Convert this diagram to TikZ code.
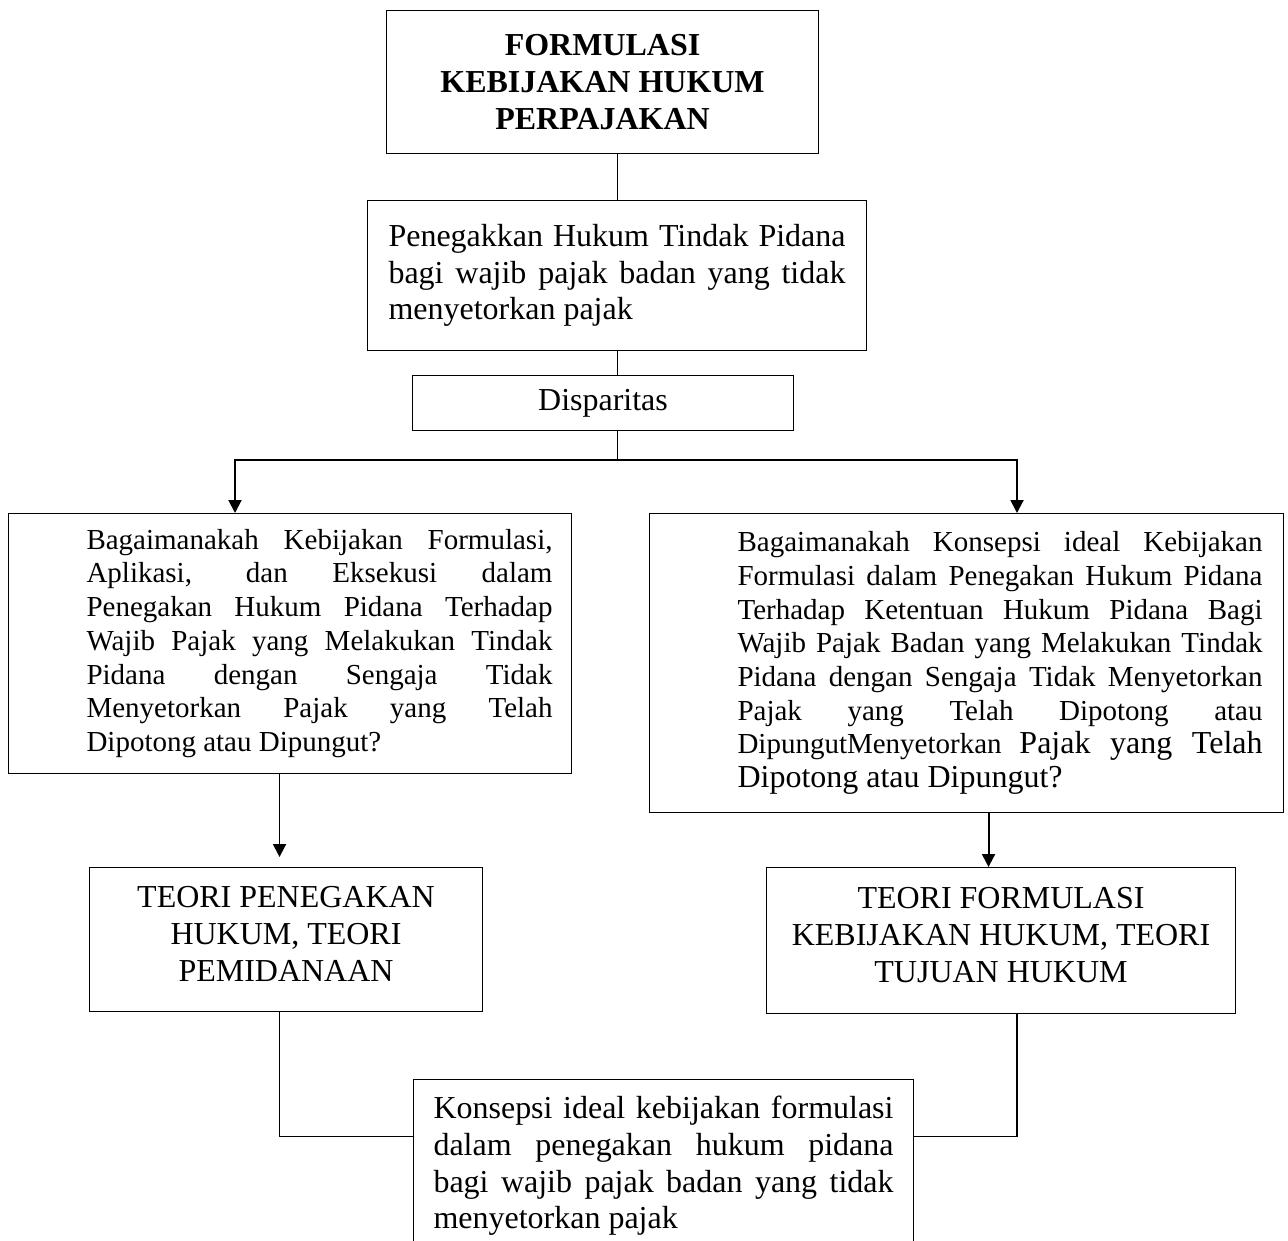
\documentclass[tikz,border=0pt]{standalone}
\usepackage{fontspec}
\setmainfont{Liberation Serif}
\usetikzlibrary{arrows.meta}
\newcommand{\besar}{\fontsize{18.2pt}{20.9pt}\selectfont}
\newcommand{\kecil}{\fontsize{16.5pt}{19.2pt}\selectfont}

\begin{document}
\begin{tikzpicture}[>={Triangle[length=0.26cm,width=0.26cm]},
  kotak/.style={draw,line width=0.6pt,anchor=north west,inner sep=0pt,align=center,font=\besar},
  rata/.style={kotak,align=justify},
  tanya/.style={kotak,font=\kecil},
  garis/.style={line width=0.6pt},
  panah/.style={line width=1.1pt,->}]
  \useasboundingbox (0,0) rectangle (25.76,-24.8);
  \node[kotak,minimum width=8.64cm,minimum height=2.86cm,font=\besar\bfseries] (judul) at (7.72,-0.2)
    {FORMULASI\\KEBIJAKAN HUKUM\\PERPAJAKAN};
  \node[rata,text width=9.14cm,inner xsep=0.42cm,minimum height=3cm] (tegak) at (7.34,-4)
    {Penegakkan Hukum Tindak Pidana\linebreak bagi wajib pajak badan yang tidak\linebreak menyetorkan pajak};
  \node[kotak,minimum width=7.62cm,minimum height=1.1cm] (dispar) at (8.24,-7.5) {Disparitas};
  \node[tanya,inner xsep=0.38cm,minimum height=5.2cm] (rumus1) at (0.16,-10.26)
    {\hspace*{1.18cm}\parbox{9.32cm}{Bagaimanakah Kebijakan Formulasi,\linebreak Aplikasi, dan Eksekusi dalam\linebreak
     Penegakan Hukum Pidana Terhadap\linebreak Wajib Pajak yang Melakukan Tindak\linebreak
     Pidana dengan Sengaja Tidak\linebreak Menyetorkan Pajak yang Telah\linebreak Dipotong atau Dipungut?}};
  \node[tanya,inner xsep=0.42cm,minimum height=5.98cm] (rumus2) at (12.98,-10.26)
    {\hspace*{1.34cm}\parbox{10.5cm}{Bagaimanakah Konsepsi ideal Kebijakan\linebreak Formulasi dalam Penegakan Hukum Pidana\linebreak
     Terhadap Ketentuan Hukum Pidana Bagi\linebreak Wajib Pajak Badan yang Melakukan Tindak\linebreak
     Pidana dengan Sengaja Tidak Menyetorkan\linebreak Pajak yang Telah Dipotong atau\linebreak
     DipungutMenyetorkan {\besar Pajak yang Telah\linebreak Dipotong atau Dipungut?}}};
  \node[kotak,minimum width=7.86cm,minimum height=2.88cm] (teori1) at (1.78,-17.34)
    {TEORI PENEGAKAN\\HUKUM, TEORI\\PEMIDANAAN\strut};
  \node[kotak,minimum width=9.38cm,minimum height=2.92cm] (teori2) at (15.32,-17.34)
    {TEORI FORMULASI\\KEBIJAKAN HUKUM, TEORI\\TUJUAN HUKUM\strut};
  \node[rata,text width=9.2cm,inner xsep=0.4cm,minimum height=3.46cm] (konsep) at (8.26,-21.58)
    {Konsepsi ideal kebijakan formulasi\linebreak dalam penegakan hukum pidana\linebreak
     bagi wajib pajak badan yang tidak\linebreak menyetorkan pajak};
  \coordinate (kiri) at (4.7,-9.2);
  \coordinate (kanan) at (20.34,-9.2);
  \coordinate (p1) at ([xshift=-0.13cm]teori1.north);
  \coordinate (p2) at ([xshift=-0.25cm]teori2.north);
  \coordinate (q1) at ([yshift=0.59cm]konsep.west);
  \coordinate (q2) at ([yshift=0.59cm]konsep.east);
  \draw[garis] (tegak.north) -- (tegak.north |- judul.south);
  \draw[garis] (tegak.south) -- (tegak.south |- dispar.north);
  \draw[garis] (tegak.south |- dispar.south) -- (tegak.south |- kiri);
  \draw[panah,<->] (kiri |- rumus1.north) -- (kiri) -- (kanan) -- (kanan |- rumus2.north);
  \draw[panah,shorten >=0.2cm] (p1 |- rumus1.south) -- (p1);
  \draw[panah] (p2 |- rumus2.south) -- (p2);
  \draw[garis] (p1 |- teori1.south) |- (q1);
  \draw[garis] (kanan |- teori2.south) |- (q2);
\end{tikzpicture}
\end{document}
